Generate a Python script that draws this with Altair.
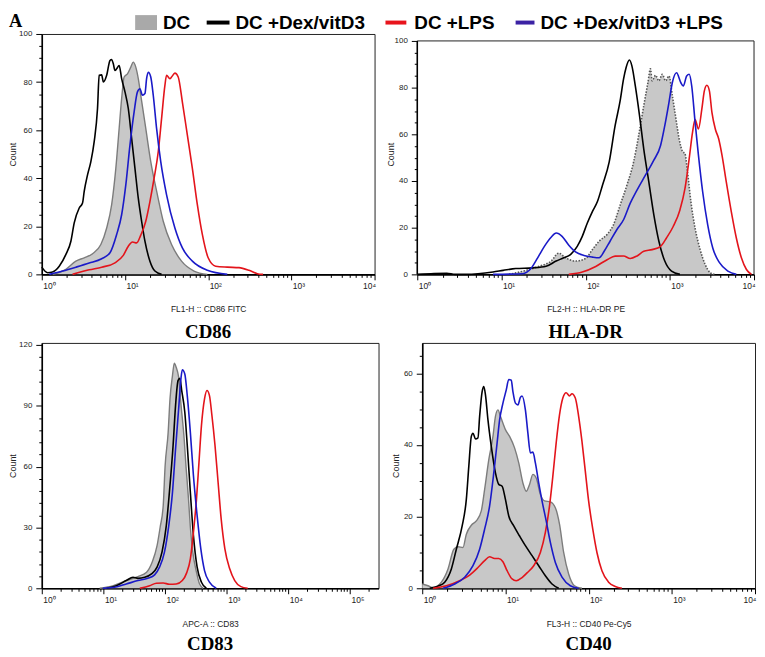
import altair as alt
import pandas as pd

# ---------------- data (log10 fluorescence position, cell count) ----------------
SERIES = ["DC", "DC +Dex/vitD3", "DC +LPS", "DC +Dex/vitD3 +LPS"]

# CD86
cd86_dc_x = [0.13, 0.29, 0.41, 0.51, 0.61, 0.71, 0.78, 0.84, 0.89, 0.93, 0.96, 0.99, 1.03, 1.07, 1.10, 1.13, 1.16, 1.19, 1.25, 1.31, 1.39, 1.46, 1.56, 1.68, 1.83, 1.99]
cd86_dc_y = [0, 2.1, 5.5, 6.9, 8.6, 12.4, 19.3, 29.0, 44.1, 60.7, 73.1, 82.1, 83.4, 86.2, 88.3, 86.2, 81.4, 74.5, 60.7, 46.9, 33.1, 22.1, 12.4, 5.5, 1.4, 0]
cd86_dex_x = [0.0, 0.07, 0.13, 0.21, 0.29, 0.35, 0.39, 0.45, 0.49, 0.51, 0.55, 0.59, 0.63, 0.67, 0.69, 0.72, 0.74, 0.78, 0.82, 0.84, 0.86, 0.88, 0.90, 0.93, 0.96, 1.00, 1.04, 1.08, 1.12, 1.16, 1.20, 1.24, 1.30, 1.36, 1.44]
cd86_dex_y = [3.0, 0.7, 1.0, 3.4, 8.3, 13.8, 21.4, 27.6, 29.7, 34.5, 41.4, 46.9, 55.2, 69.0, 82.8, 83.0, 80.0, 82.8, 89.0, 89.4, 87.6, 84.8, 85.5, 86.9, 81.4, 75.9, 69.0, 56.6, 44.1, 31.7, 22.1, 13.8, 5.5, 1.4, 0]
cd86_lps_x = [0.37, 0.57, 0.72, 0.88, 0.98, 1.04, 1.09, 1.14, 1.19, 1.25, 1.30, 1.35, 1.40, 1.44, 1.48, 1.50, 1.54, 1.56, 1.60, 1.64, 1.69, 1.75, 1.81, 1.87, 1.93, 2.00, 2.09, 2.23, 2.37, 2.49, 2.59, 2.66]
cd86_lps_y = [0, 1.9, 3.0, 4.8, 7.9, 11.7, 13.5, 13.1, 16.3, 22.1, 30.3, 40.0, 51.0, 64.8, 78.6, 82.8, 81.4, 82.1, 83.7, 82.1, 71.7, 57.9, 44.1, 29.0, 16.6, 6.9, 3.4, 3.0, 2.8, 1.7, 0.3, 0]
cd86_both_x = [0.09, 0.25, 0.41, 0.57, 0.72, 0.82, 0.90, 0.96, 1.01, 1.06, 1.11, 1.15, 1.18, 1.21, 1.24, 1.26, 1.28, 1.31, 1.34, 1.38, 1.43, 1.50, 1.60, 1.69, 1.81, 1.99, 2.23]
cd86_both_y = [0, 1.4, 3.0, 4.7, 6.5, 9.0, 16.6, 24.8, 37.2, 53.8, 67.6, 75.9, 77.2, 74.5, 75.2, 81.4, 84.1, 82.1, 74.5, 60.7, 46.9, 33.1, 19.3, 11.0, 5.5, 1.7, 0]

# HLA-DR
hla_dc_x = [1.09, 1.29, 1.45, 1.59, 1.68, 1.76, 1.88, 2.00, 2.08, 2.16, 2.26, 2.33, 2.41, 2.49, 2.57, 2.63, 2.69, 2.74, 2.77, 2.79, 2.83, 2.87, 2.91, 2.95, 2.99, 3.03, 3.07, 3.11, 3.15, 3.18, 3.21, 3.25, 3.30, 3.36, 3.42, 3.48, 3.53]
hla_dc_y = [0, 1.7, 3.5, 5.7, 9.1, 7.1, 5.7, 6.8, 10.6, 14.2, 17.3, 21.2, 29.7, 38.2, 48.2, 59.5, 72.2, 82.2, 88.1, 82.9, 85.3, 82.9, 85.7, 82.9, 85.0, 76.5, 67.3, 58.1, 52.7, 51.7, 43.9, 31.2, 19.8, 10.6, 4.2, 0.7, 0]
hla_dex_x = [0.0, 0.2, 0.35, 0.45, 0.58, 0.90, 1.02, 1.17, 1.37, 1.53, 1.65, 1.74, 1.82, 1.90, 1.96, 2.02, 2.08, 2.14, 2.20, 2.28, 2.35, 2.41, 2.45, 2.48, 2.52, 2.55, 2.59, 2.64, 2.69, 2.75, 2.81, 2.87, 2.94, 3.02, 3.12]
hla_dex_y = [0, 0.4, 0.5, 0, 0, 1.0, 1.7, 2.5, 2.8, 3.5, 5.7, 7.1, 8.5, 12.0, 16.3, 22.0, 26.9, 31.2, 38.2, 48.2, 63.7, 74.4, 83.6, 88.5, 91.8, 89.2, 80.7, 68.0, 53.8, 39.7, 25.5, 14.2, 5.7, 1.4, 0]
hla_lps_x = [1.80, 1.96, 2.12, 2.26, 2.35, 2.45, 2.53, 2.61, 2.69, 2.79, 2.89, 2.96, 3.04, 3.12, 3.18, 3.23, 3.27, 3.30, 3.34, 3.38, 3.41, 3.44, 3.47, 3.50, 3.54, 3.58, 3.62, 3.67, 3.73, 3.79, 3.85, 3.91, 3.97]
hla_lps_y = [0, 1.0, 3.4, 6.4, 7.8, 7.9, 6.8, 7.9, 9.9, 10.6, 12.0, 15.6, 20.5, 27.6, 36.8, 49.6, 60.9, 66.3, 62.3, 70.8, 78.6, 81.0, 78.6, 69.4, 62.3, 58.1, 51.0, 39.7, 26.9, 15.6, 7.1, 2.1, 0]
hla_both_x = [0.90, 1.25, 1.35, 1.43, 1.51, 1.59, 1.65, 1.72, 1.80, 1.88, 1.98, 2.08, 2.16, 2.22, 2.29, 2.37, 2.45, 2.53, 2.61, 2.71, 2.81, 2.89, 2.94, 2.99, 3.03, 3.08, 3.13, 3.16, 3.20, 3.23, 3.26, 3.30, 3.34, 3.39, 3.45, 3.51, 3.59, 3.69, 3.79]
hla_both_y = [0, 0.3, 2.5, 7.1, 12.0, 15.9, 17.7, 16.3, 12.5, 9.6, 8.1, 7.4, 7.1, 9.9, 14.2, 19.1, 23.4, 30.5, 36.1, 42.5, 48.9, 55.2, 63.7, 73.7, 82.2, 86.4, 82.2, 80.7, 85.0, 85.7, 80.7, 65.2, 51.0, 35.4, 21.2, 11.3, 5.0, 1.4, 0]

# CD83
cd83_dc_x = [0.94, 1.16, 1.37, 1.56, 1.70, 1.79, 1.87, 1.92, 1.97, 2.00, 2.05, 2.08, 2.12, 2.15, 2.18, 2.22, 2.26, 2.31, 2.34, 2.38, 2.41, 2.45, 2.51, 2.56, 2.62]
cd83_dc_y = [0, 1.3, 3.8, 5.8, 7.9, 12.8, 21.0, 30.1, 40.8, 60.0, 76.9, 93.4, 104.9, 111.0, 109.0, 104.1, 90.1, 73.6, 60.0, 44.1, 30.1, 17.8, 7.9, 2.1, 0]
cd83_dex_x = [1.05, 1.21, 1.37, 1.48, 1.56, 1.67, 1.78, 1.87, 1.95, 2.02, 2.07, 2.13, 2.17, 2.21, 2.24, 2.27, 2.32, 2.36, 2.41, 2.46, 2.52, 2.59, 2.67]
cd83_dex_y = [0, 1.3, 3.8, 5.4, 4.9, 5.4, 7.1, 10.4, 17.8, 30.9, 47.3, 70.4, 90.1, 102.4, 103.6, 97.5, 86.8, 70.4, 47.3, 26.0, 10.4, 3.0, 0]
cd83_lps_x = [1.59, 1.75, 1.86, 1.97, 2.07, 2.18, 2.28, 2.35, 2.41, 2.46, 2.51, 2.55, 2.59, 2.64, 2.68, 2.72, 2.76, 2.81, 2.86, 2.91, 2.97, 3.05, 3.13, 3.23, 3.34]
cd83_lps_y = [0, 1.3, 2.5, 2.6, 2.0, 2.1, 3.8, 7.6, 14.5, 27.6, 44.1, 62.1, 80.2, 93.4, 97.5, 95.0, 85.2, 70.4, 52.3, 34.2, 19.4, 9.5, 3.8, 0.8, 0]
cd83_both_x = [0.99, 1.18, 1.37, 1.56, 1.72, 1.83, 1.91, 1.99, 2.06, 2.12, 2.17, 2.22, 2.26, 2.28, 2.32, 2.36, 2.41, 2.46, 2.52, 2.58, 2.64, 2.72, 2.83]
cd83_both_y = [0, 0.5, 2.1, 3.8, 4.9, 6.6, 10.4, 17.8, 30.9, 47.3, 68.7, 88.4, 104.1, 107.8, 105.7, 95.0, 76.9, 55.6, 35.8, 19.4, 8.7, 3.0, 0]

# CD40
cd40_dc_x = [0.0, 0.07, 0.13, 0.23, 0.31, 0.38, 0.43, 0.49, 0.53, 0.59, 0.65, 0.71, 0.75, 0.80, 0.85, 0.88, 0.91, 0.94, 1.00, 1.05, 1.11, 1.16, 1.21, 1.25, 1.29, 1.33, 1.37, 1.42, 1.47, 1.54, 1.60, 1.65, 1.70, 1.76, 1.83, 1.92]
cd40_dc_y = [1.2, 0.7, 0.2, 1.7, 5.4, 10.9, 11.6, 11.4, 15.1, 17.6, 18.8, 21.6, 27.6, 35.9, 42.4, 48.0, 49.8, 48.0, 44.3, 42.4, 39.2, 35.0, 29.4, 27.1, 29.0, 31.8, 30.8, 26.2, 24.4, 24.1, 22.5, 17.9, 10.0, 4.0, 0.7, 0]
cd40_dex_x = [0.09, 0.19, 0.27, 0.35, 0.41, 0.48, 0.53, 0.56, 0.59, 0.61, 0.64, 0.67, 0.69, 0.72, 0.74, 0.76, 0.79, 0.83, 0.88, 0.92, 0.96, 1.00, 1.04, 1.10, 1.17, 1.24, 1.32, 1.40, 1.48, 1.56, 1.64]
cd40_dex_y = [0, 0.6, 1.7, 5.4, 10.9, 17.4, 24.8, 34.1, 42.4, 43.3, 41.7, 42.0, 48.0, 54.9, 56.3, 54.0, 47.0, 39.6, 32.2, 29.0, 28.5, 24.8, 20.2, 17.4, 14.6, 11.9, 9.1, 6.3, 3.5, 1.2, 0]
cd40_lps_x = [0.13, 0.29, 0.45, 0.57, 0.67, 0.75, 0.81, 0.87, 0.92, 0.97, 1.02, 1.08, 1.13, 1.20, 1.26, 1.34, 1.42, 1.48, 1.53, 1.57, 1.61, 1.65, 1.69, 1.73, 1.77, 1.80, 1.84, 1.88, 1.92, 1.96, 2.00, 2.05, 2.10, 2.16, 2.24, 2.32, 2.40]
cd40_lps_y = [0, 0.7, 2.1, 3.7, 5.8, 7.7, 8.8, 8.3, 8.3, 7.4, 4.9, 2.6, 2.1, 3.0, 4.3, 6.3, 10.0, 15.6, 23.0, 31.3, 40.6, 48.4, 53.1, 54.6, 53.7, 54.3, 53.1, 48.0, 41.0, 32.7, 24.4, 16.5, 10.0, 4.9, 1.7, 0.5, 0]
cd40_both_x = [0.25, 0.39, 0.51, 0.61, 0.69, 0.75, 0.81, 0.86, 0.90, 0.93, 0.97, 1.01, 1.04, 1.07, 1.09, 1.12, 1.15, 1.18, 1.20, 1.24, 1.27, 1.30, 1.33, 1.36, 1.40, 1.44, 1.49, 1.54, 1.60, 1.68, 1.78, 1.88]
cd40_both_y = [0, 1.2, 3.1, 6.3, 10.9, 16.5, 23.0, 32.2, 40.6, 47.0, 51.7, 55.4, 58.3, 58.1, 54.9, 51.7, 51.2, 53.3, 53.7, 49.8, 43.3, 37.8, 38.0, 35.0, 29.4, 24.4, 18.8, 12.8, 7.2, 3.1, 0.7, 0]

# axis titles / panel names
x_titles = ["FL1-H :: CD86 FITC", "FL2-H :: HLA-DR PE", "APC-A :: CD83", "FL3-H :: CD40 Pe-Cy5"]
panel_names = ["CD86", "HLA-DR", "CD83", "CD40"]
decades = [0, 1, 2, 3, 4, 5]

# ---------------- styling ----------------
GRAY_FILL = "#c8c8c8"
GRAY_LINE = "#7c7c7c"
LINE_COLORS = ["#000000", "#e3141b", "#1a1ac8"]
LEGEND_COLORS = ["#a9a9a9", "#000000", "#e8141c", "#3b22a4"]
SANS = "Liberation Sans"
SERIF = "Liberation Serif"


def make_df(dc, dex, lps, both):
    rows = []
    for name, (xs, ys) in zip(SERIES, [dc, dex, lps, both]):
        for lx, c in zip(xs, ys):
            rows.append({"series": name, "fl": 10 ** lx, "count": c})
    return pd.DataFrame(rows)


SUP = "['\u2070','\u00b9','\u00b2','\u00b3','\u2074','\u2075']"
LOGV = "log(datum.value)/LN10"
IS_DEC = f"abs({LOGV} - round({LOGV})) < 0.001"


def spacer(shift=6):
    return alt.Chart(pd.DataFrame({"k": [0]})).mark_rule(opacity=0, strokeOpacity=0).encode(
        x=alt.value(0), y=alt.value(-shift), y2=alt.value(-shift + 1)
    )


def panel(df, xmax, ymax, ytop, ystep, yminor, w, h, xtitle, name,
          yext=20, xtp=12, toff=5, dotted=False, right_flush=True, framed=True):
    xvals = [m * 10 ** d for d in decades for m in range(1, 10) if m * 10 ** d <= xmax * 1.0001]
    nmin = int(round(ytop // yminor))
    yvals = [round(i * yminor, 6) for i in range(0, nmin + 1)]
    xaxis = alt.Axis(
        values=xvals,
        labelExpr=f"{IS_DEC} ? '10' + {SUP}[round({LOGV})] : ''",
        tickSize={"condition": {"test": IS_DEC, "value": 5.5}, "value": 3},
        labelAlign=({"condition": {"test": "datum.value >= 9999", "value": "right"}, "value": "left"}
                    if right_flush else "left"),
        labelOffset=1,
        labelFontSize=8.5, labelPadding=2, labelOverlap=False, labelFlush=False,
        labelFont=SANS, labelColor="#222",
        title=xtitle, titleFont=SANS, titleFontSize=8.5, titleFontWeight="normal",
        titleColor="#222", titlePadding=xtp,
        domainColor="black", domainWidth=1.6, tickColor="black", tickWidth=1, grid=False,
    )
    yaxis = alt.Axis(
        values=yvals,
        labelExpr=f"abs(datum.value % {ystep}) < 0.001 ? datum.label : ''",
        tickSize={"condition": {"test": f"abs(datum.value % {ystep}) < 0.001", "value": 6}, "value": 3},
        labelFontSize=8, labelPadding=4, labelOverlap=False, labelFont=SANS, labelColor="#222",
        title="Count", titleFont=SANS, titleFontSize=9, titleFontWeight="normal", titleColor="#222",
        titlePadding=2, minExtent=yext, maxExtent=yext, domain=framed,
        domainColor="black", domainWidth=1.6, tickColor="black", tickWidth=1, grid=False,
    )
    xs = alt.Scale(type="log", domain=[1, xmax], nice=False)
    ys = alt.Scale(domain=[0, ymax], nice=False, zero=True)
    X = alt.X("fl:Q", scale=xs, axis=xaxis)
    Y = alt.Y("count:Q", scale=ys, axis=yaxis)
    base = alt.Chart(df)
    line_def = {"color": GRAY_LINE, "strokeWidth": 1.4}
    if dotted:
        line_def = {"color": "#555555", "strokeWidth": 1.6, "strokeDash": [1.5, 1.5]}
    layers = [
        base.transform_filter(alt.datum.series == SERIES[0]).mark_area(
            fill=GRAY_FILL, fillOpacity=1, interpolate="monotone", line=line_def
        ).encode(x=X, y=Y)
    ]
    for s, col in zip(SERIES[1:], LINE_COLORS):
        layers.append(
            base.transform_filter(alt.datum.series == s).mark_line(
                color=col, strokeWidth=1.6, interpolate="monotone"
            ).encode(x=X, y=Y)
        )
    if not framed:
        # plot frame sits at the top of the count range (lower than the view top)
        thin = pd.DataFrame({"fl": [1, xmax, xmax], "count": [ytop, ytop, 0]})
        thick = pd.DataFrame({"fl": [1, 1], "count": [0, ytop]})
        layers.append(alt.Chart(thin).mark_line(color="#222", strokeWidth=1).encode(x=X, y=Y, order=alt.Order("fl:Q")))
        layers.append(alt.Chart(thick).mark_line(color="black", strokeWidth=1.6).encode(x=X, y=Y))
    layers.append(spacer(6))
    view = alt.ViewBackground(stroke="#222", strokeWidth=1) if framed else alt.ViewBackground(strokeWidth=0)
    return alt.layer(*layers).properties(
        width=w, height=h, view=view,
        title=alt.TitleParams(text=name, orient="bottom", font=SERIF, fontSize=19,
                              fontWeight="bold", color="black", offset=toff, anchor="middle"),
    )


p1 = panel(make_df((cd86_dc_x, cd86_dc_y), (cd86_dex_x, cd86_dex_y), (cd86_lps_x, cd86_lps_y), (cd86_both_x, cd86_both_y)),
           1e4, 100, 100, 20, 5, 335, 242, x_titles[0], panel_names[0], yext=22, xtp=14, toff=10.4)
p2 = panel(make_df((hla_dc_x, hla_dc_y), (hla_dex_x, hla_dex_y), (hla_lps_x, hla_lps_y), (hla_both_x, hla_both_y)),
           1e4, 100 * 242 / 235, 100, 20, 5, 339, 242, x_titles[1], panel_names[1], yext=20, xtp=14, toff=10.4,
           dotted=True, framed=False)
p3 = panel(make_df((cd83_dc_x, cd83_dc_y), (cd83_dex_x, cd83_dex_y), (cd83_lps_x, cd83_lps_y), (cd83_both_x, cd83_both_y)),
           2.9e5, 121, 121, 30, 6, 339, 247, x_titles[2], panel_names[2], yext=22, xtp=15, toff=7.5, right_flush=False)
p4 = panel(make_df((cd40_dc_x, cd40_dc_y), (cd40_dex_x, cd40_dex_y), (cd40_lps_x, cd40_lps_y), (cd40_both_x, cd40_both_y)),
           1e4, 68.5, 68.5, 20, 5, 335, 247, x_titles[3], panel_names[3], yext=20, xtp=15, toff=7.5)

# ---------------- header: panel letter + legend ----------------
leg_df = pd.DataFrame({"label": SERIES})
hdr = [
    alt.Chart(pd.DataFrame({"t": ["A"]})).mark_text(
        font=SERIF, fontSize=18.5, fontWeight="bold", align="left", baseline="alphabetic", color="black"
    ).encode(text="t:N", x=alt.value(-33), y=alt.value(10.8)),
    alt.Chart(leg_df).transform_filter(alt.datum.label == SERIES[0]).mark_rect(color=LEGEND_COLORS[0]).encode(
        x=alt.value(94), x2=alt.value(116), y=alt.value(-1), y2=alt.value(14)),
    spacer(6),
]
sym_x = [None, (166, 189), (346, 367), (477, 496)]
txt_x = [122, 195, 375, 502]
for i, s in enumerate(SERIES):
    if sym_x[i] is not None:
        hdr.append(alt.Chart(leg_df).transform_filter(alt.datum.label == s).mark_rule(
            color=LEGEND_COLORS[i], strokeWidth=4).encode(
            x=alt.value(sym_x[i][0]), x2=alt.value(sym_x[i][1]), y=alt.value(6.5)))
    hdr.append(alt.Chart(leg_df).transform_filter(alt.datum.label == s).mark_text(
        font=SANS, fontSize=19, fontWeight="bold", align="left", baseline="alphabetic", color="black").encode(
        text="label:N", x=alt.value(txt_x[i]), y=alt.value(13.3)))
header = alt.layer(*hdr).properties(width=700, height=14, view=alt.ViewBackground(strokeWidth=0))

row1 = alt.hconcat(p1, p2, spacing=10)
row2 = alt.hconcat(p3, p4, spacing=11)
chart = alt.vconcat(header, row1, row2, spacing=-7).properties(
    padding={"left": 0, "top": 0, "right": 0, "bottom": -4}
).configure_view(strokeWidth=0)

chart.save("out.html", embed_options={"renderer": "svg", "actions": False})
